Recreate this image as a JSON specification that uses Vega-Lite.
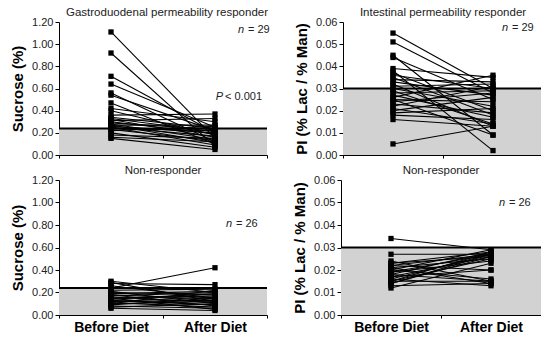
{
  "$schema": "https://vega.github.io/schema/vega-lite/v6.json",
  "padding": {"left": 10, "top": 6, "right": 0, "bottom": 0},
  "spacing": 4,
  "config": {
    "view": {"stroke": null},
    "font": "Liberation Sans",
    "title": {"fontSize": 11.5, "fontWeight": "normal", "color": "#222", "offset": -2},
    "axis": {"domainColor": "black", "tickColor": "black", "grid": false, "labelColor": "#222", "labelFontSize": 11, "tickSize": 4, "titleColor": "black", "titleFontSize": 15, "titleFontWeight": "bold", "titlePadding": 6, "labelOverlap": false, "labelFlush": false},
    "concat": {"spacing": 24}
  },
  "datasets": {
    "gd_resp": [
      {"id": 1, "Before Diet": 1.11, "After Diet": 0.15},
      {"id": 2, "Before Diet": 0.92, "After Diet": 0.08},
      {"id": 3, "Before Diet": 0.71, "After Diet": 0.20},
      {"id": 4, "Before Diet": 0.64, "After Diet": 0.25},
      {"id": 5, "Before Diet": 0.56, "After Diet": 0.12},
      {"id": 6, "Before Diet": 0.54, "After Diet": 0.22},
      {"id": 7, "Before Diet": 0.47, "After Diet": 0.10},
      {"id": 8, "Before Diet": 0.42, "After Diet": 0.30},
      {"id": 9, "Before Diet": 0.40, "After Diet": 0.18},
      {"id": 10, "Before Diet": 0.36, "After Diet": 0.37},
      {"id": 11, "Before Diet": 0.34, "After Diet": 0.24},
      {"id": 12, "Before Diet": 0.33, "After Diet": 0.21},
      {"id": 13, "Before Diet": 0.32, "After Diet": 0.16},
      {"id": 14, "Before Diet": 0.31, "After Diet": 0.33},
      {"id": 15, "Before Diet": 0.30, "After Diet": 0.19},
      {"id": 16, "Before Diet": 0.29, "After Diet": 0.23},
      {"id": 17, "Before Diet": 0.28, "After Diet": 0.14},
      {"id": 18, "Before Diet": 0.27, "After Diet": 0.27},
      {"id": 19, "Before Diet": 0.27, "After Diet": 0.11},
      {"id": 20, "Before Diet": 0.26, "After Diet": 0.20},
      {"id": 21, "Before Diet": 0.25, "After Diet": 0.17},
      {"id": 22, "Before Diet": 0.25, "After Diet": 0.09},
      {"id": 23, "Before Diet": 0.24, "After Diet": 0.22},
      {"id": 24, "Before Diet": 0.23, "After Diet": 0.13},
      {"id": 25, "Before Diet": 0.22, "After Diet": 0.26},
      {"id": 26, "Before Diet": 0.20, "After Diet": 0.07},
      {"id": 27, "Before Diet": 0.18, "After Diet": 0.15},
      {"id": 28, "Before Diet": 0.16, "After Diet": 0.12},
      {"id": 29, "Before Diet": 0.15, "After Diet": 0.05}
    ],
    "ip_resp": [
      {"id": 1, "Before Diet": 0.055, "After Diet": 0.030},
      {"id": 2, "Before Diet": 0.051, "After Diet": 0.028},
      {"id": 3, "Before Diet": 0.045, "After Diet": 0.009},
      {"id": 4, "Before Diet": 0.044, "After Diet": 0.025},
      {"id": 5, "Before Diet": 0.039, "After Diet": 0.035},
      {"id": 6, "Before Diet": 0.038, "After Diet": 0.002},
      {"id": 7, "Before Diet": 0.037, "After Diet": 0.020},
      {"id": 8, "Before Diet": 0.036, "After Diet": 0.030},
      {"id": 9, "Before Diet": 0.035, "After Diet": 0.018},
      {"id": 10, "Before Diet": 0.034, "After Diet": 0.033},
      {"id": 11, "Before Diet": 0.033, "After Diet": 0.027},
      {"id": 12, "Before Diet": 0.032, "After Diet": 0.013},
      {"id": 13, "Before Diet": 0.031, "After Diet": 0.032},
      {"id": 14, "Before Diet": 0.030, "After Diet": 0.022},
      {"id": 15, "Before Diet": 0.029, "After Diet": 0.014},
      {"id": 16, "Before Diet": 0.028, "After Diet": 0.029},
      {"id": 17, "Before Diet": 0.027, "After Diet": 0.017},
      {"id": 18, "Before Diet": 0.026, "After Diet": 0.036},
      {"id": 19, "Before Diet": 0.025, "After Diet": 0.024},
      {"id": 20, "Before Diet": 0.025, "After Diet": 0.009},
      {"id": 21, "Before Diet": 0.024, "After Diet": 0.028},
      {"id": 22, "Before Diet": 0.023, "After Diet": 0.019},
      {"id": 23, "Before Diet": 0.022, "After Diet": 0.031},
      {"id": 24, "Before Diet": 0.021, "After Diet": 0.014},
      {"id": 25, "Before Diet": 0.020, "After Diet": 0.026},
      {"id": 26, "Before Diet": 0.019, "After Diet": 0.021},
      {"id": 27, "Before Diet": 0.018, "After Diet": 0.016},
      {"id": 28, "Before Diet": 0.016, "After Diet": 0.013},
      {"id": 29, "Before Diet": 0.005, "After Diet": 0.013}
    ],
    "gd_non": [
      {"id": 1, "Before Diet": 0.30, "After Diet": 0.20},
      {"id": 2, "Before Diet": 0.24, "After Diet": 0.42},
      {"id": 3, "Before Diet": 0.28, "After Diet": 0.27},
      {"id": 4, "Before Diet": 0.26, "After Diet": 0.15},
      {"id": 5, "Before Diet": 0.29, "After Diet": 0.12},
      {"id": 6, "Before Diet": 0.22, "After Diet": 0.23},
      {"id": 7, "Before Diet": 0.21, "After Diet": 0.10},
      {"id": 8, "Before Diet": 0.20, "After Diet": 0.18},
      {"id": 9, "Before Diet": 0.19, "After Diet": 0.21},
      {"id": 10, "Before Diet": 0.18, "After Diet": 0.08},
      {"id": 11, "Before Diet": 0.18, "After Diet": 0.14},
      {"id": 12, "Before Diet": 0.17, "After Diet": 0.20},
      {"id": 13, "Before Diet": 0.16, "After Diet": 0.11},
      {"id": 14, "Before Diet": 0.15, "After Diet": 0.17},
      {"id": 15, "Before Diet": 0.15, "After Diet": 0.05},
      {"id": 16, "Before Diet": 0.14, "After Diet": 0.19},
      {"id": 17, "Before Diet": 0.13, "After Diet": 0.09},
      {"id": 18, "Before Diet": 0.12, "After Diet": 0.16},
      {"id": 19, "Before Diet": 0.12, "After Diet": 0.13},
      {"id": 20, "Before Diet": 0.11, "After Diet": 0.07},
      {"id": 21, "Before Diet": 0.10, "After Diet": 0.22},
      {"id": 22, "Before Diet": 0.10, "After Diet": 0.12},
      {"id": 23, "Before Diet": 0.09, "After Diet": 0.15},
      {"id": 24, "Before Diet": 0.08, "After Diet": 0.06},
      {"id": 25, "Before Diet": 0.07, "After Diet": 0.10},
      {"id": 26, "Before Diet": 0.06, "After Diet": 0.04}
    ],
    "ip_non": [
      {"id": 1, "Before Diet": 0.034, "After Diet": 0.029},
      {"id": 2, "Before Diet": 0.027, "After Diet": 0.027},
      {"id": 3, "Before Diet": 0.024, "After Diet": 0.015},
      {"id": 4, "Before Diet": 0.023, "After Diet": 0.028},
      {"id": 5, "Before Diet": 0.023, "After Diet": 0.026},
      {"id": 6, "Before Diet": 0.022, "After Diet": 0.020},
      {"id": 7, "Before Diet": 0.022, "After Diet": 0.027},
      {"id": 8, "Before Diet": 0.021, "After Diet": 0.014},
      {"id": 9, "Before Diet": 0.021, "After Diet": 0.025},
      {"id": 10, "Before Diet": 0.020, "After Diet": 0.029},
      {"id": 11, "Before Diet": 0.020, "After Diet": 0.016},
      {"id": 12, "Before Diet": 0.019, "After Diet": 0.027},
      {"id": 13, "Before Diet": 0.019, "After Diet": 0.024},
      {"id": 14, "Before Diet": 0.018, "After Diet": 0.028},
      {"id": 15, "Before Diet": 0.018, "After Diet": 0.015},
      {"id": 16, "Before Diet": 0.017, "After Diet": 0.026},
      {"id": 17, "Before Diet": 0.017, "After Diet": 0.020},
      {"id": 18, "Before Diet": 0.016, "After Diet": 0.027},
      {"id": 19, "Before Diet": 0.016, "After Diet": 0.013},
      {"id": 20, "Before Diet": 0.015, "After Diet": 0.025},
      {"id": 21, "Before Diet": 0.015, "After Diet": 0.028},
      {"id": 22, "Before Diet": 0.015, "After Diet": 0.015},
      {"id": 23, "Before Diet": 0.014, "After Diet": 0.027},
      {"id": 24, "Before Diet": 0.014, "After Diet": 0.026},
      {"id": 25, "Before Diet": 0.013, "After Diet": 0.014},
      {"id": 26, "Before Diet": 0.012, "After Diet": 0.023}
    ]
  },
  "vconcat": [
    {
      "hconcat": [
        {
          "width": 208, "height": 133,
          "title": {"text": "Gastroduodenal permeability responder", "dx": 4},
          "layer": [
            {"data": {"values": [{"lo": 0, "thr": 0.24}]}, "mark": {"type": "rect", "color": "#d2d2d2"},
             "encoding": {"y": {"field": "lo", "type": "quantitative", "scale": {"domain": [0, 1.2], "nice": false},
                                "axis": {"values": [0, 0.2, 0.4, 0.6, 0.8, 1.0, 1.2], "format": ".2f", "title": "Sucrose (%)", "labelOverlap": false}}, "y2": {"field": "thr"}}},
            {"data": {"values": [{"thr": 0.24}]}, "mark": {"type": "rule", "strokeWidth": 2, "color": "black"},
             "encoding": {"y": {"field": "thr", "type": "quantitative",
                                "axis": {"values": [0, 0.2, 0.4, 0.6, 0.8, 1.0, 1.2], "format": ".2f", "title": "Sucrose (%)", "labelOverlap": false}}}},
            {"data": {"name": "gd_resp"}, "transform": [{"fold": ["Before Diet", "After Diet"], "as": ["time", "v"]}],
             "mark": {"type": "line", "color": "black", "strokeWidth": 1.1},
             "encoding": {
               "x": {"field": "time", "type": "nominal", "sort": ["Before Diet", "After Diet"], "scale": {"type": "band", "paddingInner": 0, "paddingOuter": 0},
                     "axis": {"labels": false, "title": null, "tickBand": "extent", "tickSize": 3}},
               "y": {"field": "v", "type": "quantitative", "scale": {"domain": [0, 1.2], "nice": false},
                     "axis": {"values": [0, 0.2, 0.4, 0.6, 0.8, 1.0, 1.2], "format": ".2f", "title": "Sucrose (%)", "labelOverlap": false}},
               "detail": {"field": "id", "type": "nominal"}}},
            {"data": {"name": "gd_resp"}, "transform": [{"fold": ["Before Diet", "After Diet"], "as": ["time", "v"]}],
             "mark": {"type": "point", "shape": "square", "filled": true, "color": "black", "size": 28, "opacity": 1},
             "encoding": {
               "x": {"field": "time", "type": "nominal", "sort": ["Before Diet", "After Diet"]},
               "y": {"field": "v", "type": "quantitative",
                     "axis": {"values": [0, 0.2, 0.4, 0.6, 0.8, 1.0, 1.2], "format": ".2f", "title": "Sucrose (%)", "labelOverlap": false}}}},
            {"data": {"values": [{"t": "n", "y": 1.13}]}, "mark": {"type": "text", "fontStyle": "italic", "fontSize": 11, "align": "right", "dx": -1, "color": "#222"},
             "encoding": {"x": {"value": 186}, "y": {"field": "y", "type": "quantitative", "axis": {"values": [0, 0.2, 0.4, 0.6, 0.8, 1.0, 1.2], "format": ".2f", "title": "Sucrose (%)", "labelOverlap": false}}, "text": {"field": "t", "type": "nominal"}}},
            {"data": {"values": [{"t": "= 29", "y": 1.13}]}, "mark": {"type": "text", "fontSize": 11, "align": "left", "dx": 3, "color": "#222"},
             "encoding": {"x": {"value": 186}, "y": {"field": "y", "type": "quantitative", "axis": {"values": [0, 0.2, 0.4, 0.6, 0.8, 1.0, 1.2], "format": ".2f", "title": "Sucrose (%)", "labelOverlap": false}}, "text": {"field": "t", "type": "nominal"}}},
            {"data": {"values": [{"t": "P", "y": 0.52}]}, "mark": {"type": "text", "fontStyle": "italic", "fontSize": 11, "align": "right", "dx": -1, "color": "#222"},
             "encoding": {"x": {"value": 165}, "y": {"field": "y", "type": "quantitative", "axis": {"values": [0, 0.2, 0.4, 0.6, 0.8, 1.0, 1.2], "format": ".2f", "title": "Sucrose (%)", "labelOverlap": false}}, "text": {"field": "t", "type": "nominal"}}},
            {"data": {"values": [{"t": "< 0.001", "y": 0.52}]}, "mark": {"type": "text", "fontSize": 11, "align": "left", "dx": 1, "color": "#222"},
             "encoding": {"x": {"value": 165}, "y": {"field": "y", "type": "quantitative", "axis": {"values": [0, 0.2, 0.4, 0.6, 0.8, 1.0, 1.2], "format": ".2f", "title": "Sucrose (%)", "labelOverlap": false}}, "text": {"field": "t", "type": "nominal"}}}
          ]
        },
        {
          "width": 200, "height": 133,
          "title": {"text": "Intestinal permeability responder"},
          "layer": [
            {"data": {"values": [{"lo": 0, "thr": 0.03}]}, "mark": {"type": "rect", "color": "#d2d2d2"},
             "encoding": {"y": {"field": "lo", "type": "quantitative", "scale": {"domain": [0, 0.06], "nice": false},
                                "axis": {"values": [0, 0.01, 0.02, 0.03, 0.04, 0.05, 0.06], "format": ".2f", "title": "PI (% Lac / % Man)", "labelOverlap": false}}, "y2": {"field": "thr"}}},
            {"data": {"values": [{"thr": 0.03}]}, "mark": {"type": "rule", "strokeWidth": 2, "color": "black"},
             "encoding": {"y": {"field": "thr", "type": "quantitative",
                                "axis": {"values": [0, 0.01, 0.02, 0.03, 0.04, 0.05, 0.06], "format": ".2f", "title": "PI (% Lac / % Man)", "labelOverlap": false}}}},
            {"data": {"name": "ip_resp"}, "transform": [{"fold": ["Before Diet", "After Diet"], "as": ["time", "v"]}],
             "mark": {"type": "line", "color": "black", "strokeWidth": 1.1},
             "encoding": {
               "x": {"field": "time", "type": "nominal", "sort": ["Before Diet", "After Diet"], "scale": {"type": "band", "paddingInner": 0, "paddingOuter": 0},
                     "axis": {"labels": false, "title": null, "tickBand": "extent", "tickSize": 3}},
               "y": {"field": "v", "type": "quantitative", "scale": {"domain": [0, 0.06], "nice": false},
                     "axis": {"values": [0, 0.01, 0.02, 0.03, 0.04, 0.05, 0.06], "format": ".2f", "title": "PI (% Lac / % Man)", "labelOverlap": false}},
               "detail": {"field": "id", "type": "nominal"}}},
            {"data": {"name": "ip_resp"}, "transform": [{"fold": ["Before Diet", "After Diet"], "as": ["time", "v"]}],
             "mark": {"type": "point", "shape": "square", "filled": true, "color": "black", "size": 28, "opacity": 1},
             "encoding": {
               "x": {"field": "time", "type": "nominal", "sort": ["Before Diet", "After Diet"]},
               "y": {"field": "v", "type": "quantitative",
                     "axis": {"values": [0, 0.01, 0.02, 0.03, 0.04, 0.05, 0.06], "format": ".2f", "title": "PI (% Lac / % Man)", "labelOverlap": false}}}},
            {"data": {"values": [{"t": "n", "y": 0.0573}]}, "mark": {"type": "text", "fontStyle": "italic", "fontSize": 11, "align": "right", "dx": -1, "color": "#222"},
             "encoding": {"x": {"value": 166}, "y": {"field": "y", "type": "quantitative", "axis": {"values": [0, 0.01, 0.02, 0.03, 0.04, 0.05, 0.06], "format": ".2f", "title": "PI (% Lac / % Man)", "labelOverlap": false}}, "text": {"field": "t", "type": "nominal"}}},
            {"data": {"values": [{"t": "= 29", "y": 0.0573}]}, "mark": {"type": "text", "fontSize": 11, "align": "left", "dx": 3, "color": "#222"},
             "encoding": {"x": {"value": 166}, "y": {"field": "y", "type": "quantitative", "axis": {"values": [0, 0.01, 0.02, 0.03, 0.04, 0.05, 0.06], "format": ".2f", "title": "PI (% Lac / % Man)", "labelOverlap": false}}, "text": {"field": "t", "type": "nominal"}}}
          ]
        }
      ]
    },
    {
      "hconcat": [
        {
          "width": 208, "height": 135,
          "title": {"text": "Non-responder"},
          "layer": [
            {"data": {"values": [{"lo": 0, "thr": 0.24}]}, "mark": {"type": "rect", "color": "#d2d2d2"},
             "encoding": {"y": {"field": "lo", "type": "quantitative", "scale": {"domain": [0, 1.2], "nice": false},
                                "axis": {"values": [0, 0.2, 0.4, 0.6, 0.8, 1.0, 1.2], "format": ".2f", "title": "Sucrose (%)", "labelOverlap": false}}, "y2": {"field": "thr"}}},
            {"data": {"values": [{"thr": 0.24}]}, "mark": {"type": "rule", "strokeWidth": 2, "color": "black"},
             "encoding": {"y": {"field": "thr", "type": "quantitative",
                                "axis": {"values": [0, 0.2, 0.4, 0.6, 0.8, 1.0, 1.2], "format": ".2f", "title": "Sucrose (%)", "labelOverlap": false}}}},
            {"data": {"name": "gd_non"}, "transform": [{"fold": ["Before Diet", "After Diet"], "as": ["time", "v"]}],
             "mark": {"type": "line", "color": "black", "strokeWidth": 1.1},
             "encoding": {
               "x": {"field": "time", "type": "nominal", "sort": ["Before Diet", "After Diet"], "scale": {"type": "band", "paddingInner": 0, "paddingOuter": 0},
                     "axis": {"title": null, "tickBand": "extent", "tickSize": 3, "labelAngle": 0, "labelFontSize": 14, "labelFontWeight": "bold", "labelColor": "black", "labelPadding": 2}},
               "y": {"field": "v", "type": "quantitative", "scale": {"domain": [0, 1.2], "nice": false},
                     "axis": {"values": [0, 0.2, 0.4, 0.6, 0.8, 1.0, 1.2], "format": ".2f", "title": "Sucrose (%)", "labelOverlap": false}},
               "detail": {"field": "id", "type": "nominal"}}},
            {"data": {"name": "gd_non"}, "transform": [{"fold": ["Before Diet", "After Diet"], "as": ["time", "v"]}],
             "mark": {"type": "point", "shape": "square", "filled": true, "color": "black", "size": 28, "opacity": 1},
             "encoding": {
               "x": {"field": "time", "type": "nominal", "sort": ["Before Diet", "After Diet"]},
               "y": {"field": "v", "type": "quantitative",
                     "axis": {"values": [0, 0.2, 0.4, 0.6, 0.8, 1.0, 1.2], "format": ".2f", "title": "Sucrose (%)", "labelOverlap": false}}}},
            {"data": {"values": [{"t": "n", "y": 0.81}]}, "mark": {"type": "text", "fontStyle": "italic", "fontSize": 11, "align": "right", "dx": -1, "color": "#222"},
             "encoding": {"x": {"value": 174}, "y": {"field": "y", "type": "quantitative", "axis": {"values": [0, 0.2, 0.4, 0.6, 0.8, 1.0, 1.2], "format": ".2f", "title": "Sucrose (%)", "labelOverlap": false}}, "text": {"field": "t", "type": "nominal"}}},
            {"data": {"values": [{"t": "= 26", "y": 0.81}]}, "mark": {"type": "text", "fontSize": 11, "align": "left", "dx": 3, "color": "#222"},
             "encoding": {"x": {"value": 174}, "y": {"field": "y", "type": "quantitative", "axis": {"values": [0, 0.2, 0.4, 0.6, 0.8, 1.0, 1.2], "format": ".2f", "title": "Sucrose (%)", "labelOverlap": false}}, "text": {"field": "t", "type": "nominal"}}}
          ]
        },
        {
          "width": 200, "height": 135,
          "title": {"text": "Non-responder"},
          "layer": [
            {"data": {"values": [{"lo": 0, "thr": 0.03}]}, "mark": {"type": "rect", "color": "#d2d2d2"},
             "encoding": {"y": {"field": "lo", "type": "quantitative", "scale": {"domain": [0, 0.06], "nice": false},
                                "axis": {"values": [0, 0.01, 0.02, 0.03, 0.04, 0.05, 0.06], "format": ".2f", "title": "PI (% Lac / % Man)", "labelOverlap": false}}, "y2": {"field": "thr"}}},
            {"data": {"values": [{"thr": 0.03}]}, "mark": {"type": "rule", "strokeWidth": 2, "color": "black"},
             "encoding": {"y": {"field": "thr", "type": "quantitative",
                                "axis": {"values": [0, 0.01, 0.02, 0.03, 0.04, 0.05, 0.06], "format": ".2f", "title": "PI (% Lac / % Man)", "labelOverlap": false}}}},
            {"data": {"name": "ip_non"}, "transform": [{"fold": ["Before Diet", "After Diet"], "as": ["time", "v"]}],
             "mark": {"type": "line", "color": "black", "strokeWidth": 1.1},
             "encoding": {
               "x": {"field": "time", "type": "nominal", "sort": ["Before Diet", "After Diet"], "scale": {"type": "band", "paddingInner": 0, "paddingOuter": 0},
                     "axis": {"title": null, "tickBand": "extent", "tickSize": 3, "labelAngle": 0, "labelFontSize": 14, "labelFontWeight": "bold", "labelColor": "black", "labelPadding": 2}},
               "y": {"field": "v", "type": "quantitative", "scale": {"domain": [0, 0.06], "nice": false},
                     "axis": {"values": [0, 0.01, 0.02, 0.03, 0.04, 0.05, 0.06], "format": ".2f", "title": "PI (% Lac / % Man)", "labelOverlap": false}},
               "detail": {"field": "id", "type": "nominal"}}},
            {"data": {"name": "ip_non"}, "transform": [{"fold": ["Before Diet", "After Diet"], "as": ["time", "v"]}],
             "mark": {"type": "point", "shape": "square", "filled": true, "color": "black", "size": 28, "opacity": 1},
             "encoding": {
               "x": {"field": "time", "type": "nominal", "sort": ["Before Diet", "After Diet"]},
               "y": {"field": "v", "type": "quantitative",
                     "axis": {"values": [0, 0.01, 0.02, 0.03, 0.04, 0.05, 0.06], "format": ".2f", "title": "PI (% Lac / % Man)", "labelOverlap": false}}}},
            {"data": {"values": [{"t": "n", "y": 0.0498}]}, "mark": {"type": "text", "fontStyle": "italic", "fontSize": 11, "align": "right", "dx": -1, "color": "#222"},
             "encoding": {"x": {"value": 165}, "y": {"field": "y", "type": "quantitative", "axis": {"values": [0, 0.01, 0.02, 0.03, 0.04, 0.05, 0.06], "format": ".2f", "title": "PI (% Lac / % Man)", "labelOverlap": false}}, "text": {"field": "t", "type": "nominal"}}},
            {"data": {"values": [{"t": "= 26", "y": 0.0498}]}, "mark": {"type": "text", "fontSize": 11, "align": "left", "dx": 3, "color": "#222"},
             "encoding": {"x": {"value": 165}, "y": {"field": "y", "type": "quantitative", "axis": {"values": [0, 0.01, 0.02, 0.03, 0.04, 0.05, 0.06], "format": ".2f", "title": "PI (% Lac / % Man)", "labelOverlap": false}}, "text": {"field": "t", "type": "nominal"}}}
          ]
        }
      ]
    }
  ]
}
